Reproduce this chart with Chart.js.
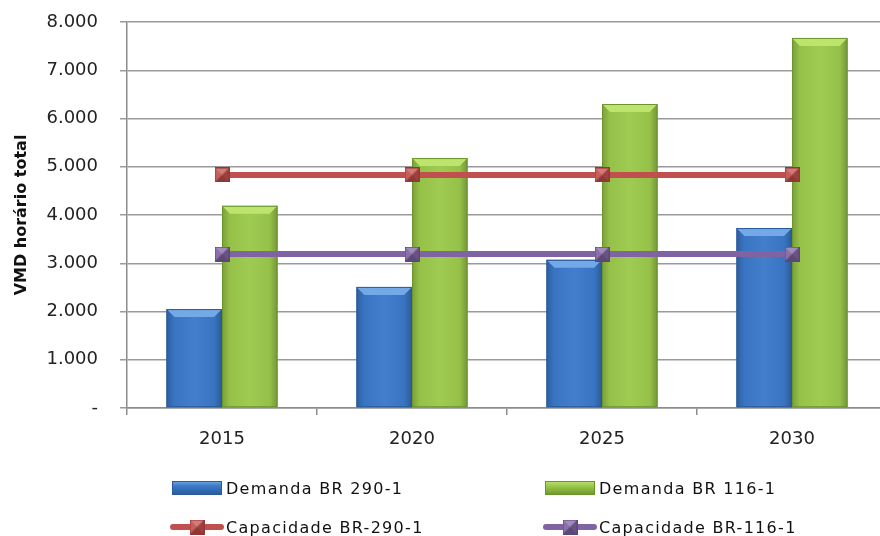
<!DOCTYPE html>
<html lang="pt">
<head>
    <meta charset="UTF-8">
    <title>VMD horário total</title>
    <style>
        html, body {
            margin: 0;
            padding: 0;
            overflow: hidden;
            background-color: #fff;
            font-family: "DejaVu Sans", Verdana, sans-serif;
        }
        #wrap {
            position: relative;
            width: 900px;
            height: 536px;
        }
        .leg-item {
            position: absolute;
            height: 20px;
            display: flex;
            align-items: center;
            font-size: 16px;
            letter-spacing: 1.3px;
            color: #111;
            white-space: nowrap;
        }
        .leg-item canvas {
            margin-right: 2px;
        }
    </style>
</head>
<body>
    <div id="wrap">
        <canvas id="chart" width="900" height="536"></canvas>
        <div id="legend"></div>
    </div>

    <script src="https://cdn.jsdelivr.net/npm/chart.js"></script>
    <script>
var years = ["2015", "2020", "2025", "2030"];
var demandaBR290 = [2050, 2510, 3070, 3730];
var demandaBR116 = [4190, 5180, 6300, 7670];
var capacidadeBR290 = [4830, 4830, 4830, 4830];
var capacidadeBR116 = [3190, 3190, 3190, 3190];
var yTicks = [0, 1000, 2000, 3000, 4000, 5000, 6000, 7000, 8000];

var BLUE = "#3b79c9", BLUE_DARK = "#285a99", BLUE_LIGHT = "#74a9e8";
var GREEN = "#9cc94c", GREEN_DARK = "#6a952b", GREEN_LIGHT = "#bde46c";
var RED = "#c0504d", RED_DARK = "#9b3431";
var PURPLE = "#8064a2", PURPLE_DARK = "#5f4580";

// little pyramid-like square marker
function makeMarker(color, dark) {
    var s = 15;
    var c = document.createElement("canvas");
    c.width = s; c.height = s;
    var g = c.getContext("2d");
    var m = s / 2;
    g.fillStyle = color;
    g.fillRect(0, 0, s, s);
    g.fillStyle = "rgba(255,255,255,0.25)";
    g.beginPath(); g.moveTo(0, 0); g.lineTo(s, 0); g.lineTo(m, m); g.fill();
    g.fillStyle = "rgba(0,0,0,0.18)";
    g.beginPath(); g.moveTo(s, 0); g.lineTo(s, s); g.lineTo(m, m); g.fill();
    g.fillStyle = "rgba(0,0,0,0.28)";
    g.beginPath(); g.moveTo(0, s); g.lineTo(s, s); g.lineTo(m, m); g.fill();
    g.fillStyle = "rgba(255,255,255,0.08)";
    g.beginPath(); g.moveTo(0, 0); g.lineTo(0, s); g.lineTo(m, m); g.fill();
    g.strokeStyle = dark;
    g.lineWidth = 1;
    g.strokeRect(0.5, 0.5, s - 1, s - 1);
    return c;
}

var redMarker = makeMarker(RED, RED_DARK);
var purpleMarker = makeMarker(PURPLE, PURPLE_DARK);

function fmt(v) {
    if (v === 0) return "-";
    return String(v / 1000) + ".000";
}

// bevel look on the bars
var bevelPlugin = {
    id: "bevel",
    afterDatasetDraw: function(chart, args) {
        var ds = chart.data.datasets[args.index];
        if (ds.type !== "bar") return;
        var ctx = chart.ctx;
        var light = ds.lightColor;
        var meta = args.meta;
        meta.data.forEach(function(bar) {
            var w = bar.width;
            var l = bar.x - w / 2, r = bar.x + w / 2;
            var t = bar.y, b = bar.base;
            var bv = 8;
            ctx.save();
            var hg = ctx.createLinearGradient(l, 0, r, 0);
            hg.addColorStop(0, "rgba(0,0,0,0.22)");
            hg.addColorStop(0.14, "rgba(0,0,0,0.04)");
            hg.addColorStop(0.5, "rgba(255,255,255,0.04)");
            hg.addColorStop(0.86, "rgba(0,0,0,0.04)");
            hg.addColorStop(1, "rgba(0,0,0,0.26)");
            ctx.fillStyle = hg;
            ctx.fillRect(l, t, w, b - t);
            ctx.fillStyle = light;
            ctx.beginPath();
            ctx.moveTo(l, t);
            ctx.lineTo(r, t);
            ctx.lineTo(r - bv, t + bv);
            ctx.lineTo(l + bv, t + bv);
            ctx.closePath();
            ctx.fill();
            ctx.strokeStyle = ds.borderColor;
            ctx.lineWidth = 1;
            ctx.strokeRect(l + 0.5, t + 0.5, w - 1, b - t - 1);
            ctx.restore();
        });
    }
};

var ctx = document.getElementById("chart").getContext("2d");
var chart = new Chart(ctx, {
    type: "bar",
    data: {
        labels: years,
        datasets: [
            {
                type: "bar",
                label: "Demanda BR 290-1",
                data: demandaBR290,
                backgroundColor: BLUE,
                borderColor: BLUE_DARK,
                lightColor: BLUE_LIGHT,
                borderWidth: 0,
                barPercentage: 1,
                categoryPercentage: 0.585,
                order: 2
            },
            {
                type: "bar",
                label: "Demanda BR 116-1",
                data: demandaBR116,
                backgroundColor: GREEN,
                borderColor: GREEN_DARK,
                lightColor: GREEN_LIGHT,
                borderWidth: 0,
                barPercentage: 1,
                categoryPercentage: 0.585,
                order: 2
            },
            {
                type: "line",
                label: "Capacidade BR-290-1",
                data: capacidadeBR290,
                borderColor: RED,
                backgroundColor: RED,
                borderWidth: 6,
                pointStyle: redMarker,
                pointRadius: 7,
                order: 1
            },
            {
                type: "line",
                label: "Capacidade BR-116-1",
                data: capacidadeBR116,
                borderColor: PURPLE,
                backgroundColor: PURPLE,
                borderWidth: 6,
                pointStyle: purpleMarker,
                pointRadius: 7,
                order: 1
            }
        ]
    },
    options: {
        responsive: false,
        animation: false,
        layout: { padding: { top: 22, right: 3, left: 0, bottom: 0 } },
        plugins: {
            legend: { display: false },
            tooltip: { enabled: false }
        },
        scales: {
            x: {
                offset: true,
                grid: {
                    offset: true,
                    drawOnChartArea: false,
                    color: "#8c8c8c",
                    lineWidth: 1.5,
                    tickLength: 7
                },
                border: { color: "#8c8c8c", width: 1.5 },
                ticks: {
                    color: "#222",
                    font: { family: "DejaVu Sans", size: 18 },
                    padding: 14
                },
                afterFit: function(scale) { scale.height = 128; }
            },
            y: {
                min: 0,
                max: 8000,
                afterBuildTicks: function(scale) {
                    scale.ticks = yTicks.map(function(v) { return { value: v }; });
                },
                grid: {
                    color: "#9a9a9a",
                    lineWidth: 1.5,
                    tickLength: 7
                },
                border: { color: "#8c8c8c", width: 1.5 },
                ticks: {
                    color: "#222",
                    font: { family: "DejaVu Sans", size: 18 },
                    padding: 22,
                    callback: function(v) { return fmt(v); }
                },
                title: {
                    display: true,
                    text: "VMD horário total",
                    color: "#111",
                    font: { family: "DejaVu Sans", size: 16, weight: "bold" },
                    padding: { top: 12, bottom: 0 }
                },
                afterFit: function(scale) {
                    scale.width = 127;
                    scale.paddingTop = 0;
                    scale.paddingBottom = 0;
                }
            }
        }
    },
    plugins: [bevelPlugin]
});

// legend in two columns, built from the datasets
var legendPos = [
    { left: 170, top: 478 },
    { left: 543, top: 478 },
    { left: 170, top: 517 },
    { left: 543, top: 517 }
];
var legendEl = document.getElementById("legend");
chart.data.datasets.forEach(function(ds, i) {
    var item = document.createElement("div");
    item.className = "leg-item";
    item.style.left = legendPos[i].left + "px";
    item.style.top = legendPos[i].top + "px";
    var ic = document.createElement("canvas");
    ic.width = 54; ic.height = 20;
    var g = ic.getContext("2d");
    if (ds.type === "bar") {
        var grd = g.createLinearGradient(0, 3, 0, 17);
        grd.addColorStop(0, ds.lightColor);
        grd.addColorStop(0.35, ds.backgroundColor);
        grd.addColorStop(1, ds.borderColor);
        g.fillStyle = grd;
        g.fillRect(2, 3, 50, 14);
        g.strokeStyle = ds.borderColor;
        g.strokeRect(2.5, 3.5, 49, 13);
    } else {
        g.strokeStyle = ds.borderColor;
        g.lineWidth = 6;
        g.lineCap = "round";
        g.beginPath(); g.moveTo(3, 10); g.lineTo(51, 10); g.stroke();
        g.drawImage(ds.pointStyle, 27 - 7.5, 10 - 7.5);
    }
    item.appendChild(ic);
    var span = document.createElement("span");
    span.textContent = ds.label;
    item.appendChild(span);
    legendEl.appendChild(item);
});
    </script>
</body>
</html>
